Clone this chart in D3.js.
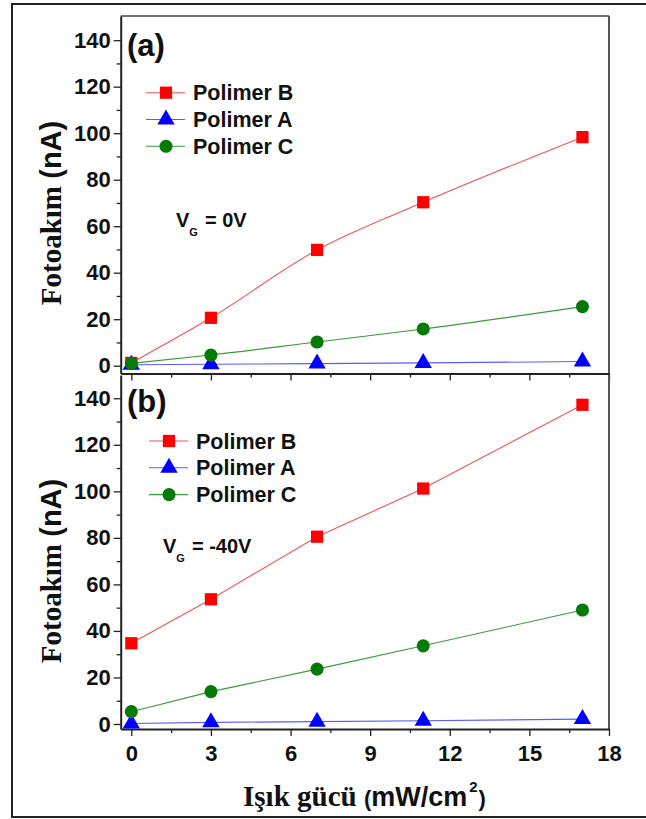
<!DOCTYPE html>
<html lang="tr">
<head>
<meta charset="UTF-8">
<title>Fotoakım - Işık gücü</title>
<script src="https://d3js.org/d3.v7.min.js"></script>
<style>
  body { margin: 0; background: #fff; }
  svg text { font-family: Arial, "Liberation Sans", sans-serif; font-weight: bold; fill: #111; }
  .serif { font-family: "Times New Roman", "Liberation Serif", serif; }
</style>
</head>
<body>
<div id="vis"></div>
<script>
// light power values (mW/cm2)
const lightPower = [0, 3, 7, 11, 17];

// panel (a), VG = 0V
const aPolimerB = [1.2, 20.6, 49.8, 70.3, 98.3];
const aPolimerA = [0.4, 0.6, 0.9, 1.2, 1.8];
const aPolimerC = [1.0, 4.6, 10.2, 15.8, 25.4];

// panel (b), VG = -40V
const bPolimerB = [34.7, 53.6, 80.5, 101.2, 137.2];
const bPolimerA = [0.2, 0.7, 1.0, 1.4, 2.1];
const bPolimerC = [5.3, 13.9, 23.6, 33.6, 49.0];

const seriesNames = ['Polimer B', 'Polimer A', 'Polimer C'];
const yTicks = [0, 20, 40, 60, 80, 100, 120, 140];
const yMinor = [10, 30, 50, 70, 90, 110, 130];
const xTicks = [0, 3, 6, 9, 12, 15, 18];
const xMinor = [1.5, 4.5, 7.5, 10.5, 13.5, 16.5];

const width = 646, height = 819;

const style = {
  'Polimer B': { line: '#ee5555', fill: '#ff0000', symbol: d3.symbolSquare, size: 150 },
  'Polimer A': { line: '#5a5aff', fill: '#0000ff', symbol: d3.symbolTriangle, size: 130 },
  'Polimer C': { line: '#3a9a3a', fill: '#067a06', symbol: d3.symbolCircle, size: 135 }
};

const svg = d3.select('#vis').append('svg')
  .attr('width', width)
  .attr('height', height);

// outer frame
svg.append('rect')
  .attr('x', 12).attr('y', 4)
  .attr('width', 700).attr('height', 813)
  .attr('fill', 'none')
  .attr('stroke', '#222')
  .attr('stroke-width', 2);

const x = d3.scaleLinear().domain([-0.4, 18]).range([120.7, 609]);

function drawPanel(cfg) {
  const y = d3.scaleLinear().domain(cfg.yDomain).range(cfg.yRange);
  const g = svg.append('g');

  // right spine (and top for panel a)
  g.append('line')
    .attr('x1', x.range()[1]).attr('x2', x.range()[1])
    .attr('y1', y.range()[1]).attr('y2', y.range()[0])
    .attr('stroke', '#555').attr('stroke-width', 2);
  if (cfg.top) {
    g.append('line')
      .attr('x1', x.range()[0]).attr('x2', x.range()[1])
      .attr('y1', y.range()[1]).attr('y2', y.range()[1])
      .attr('stroke', '#444').attr('stroke-width', 1.5);
  }

  // y axis
  g.append('g')
    .attr('transform', `translate(${x.range()[0]},0)`)
    .call(d3.axisLeft(y).tickValues(yTicks).tickSize(7).tickPadding(3).tickSizeOuter(0));
  g.append('g')
    .attr('transform', `translate(${x.range()[0]},0)`)
    .call(d3.axisLeft(y).tickValues(yMinor).tickSize(4).tickFormat('').tickSizeOuter(0))
    .select('.domain').remove();

  // x axis
  g.append('g')
    .attr('transform', `translate(0,${y.range()[0]})`)
    .call(d3.axisBottom(x).tickValues(xTicks).tickSize(7).tickPadding(9).tickSizeOuter(0)
      .tickFormat(cfg.xLabels ? d3.format('d') : ''));
  g.append('g')
    .attr('transform', `translate(0,${y.range()[0]})`)
    .call(d3.axisBottom(x).tickValues(xMinor).tickSize(4).tickFormat('').tickSizeOuter(0))
    .select('.domain').remove();

  g.selectAll('.domain').attr('stroke', '#222').attr('stroke-width', 2);
  g.selectAll('.tick line').attr('stroke', '#222').attr('stroke-width', 1.3);
  g.selectAll('.tick text')
    .style('font-family', 'Arial, "Liberation Sans", sans-serif')
    .style('font-weight', 'bold')
    .style('font-size', '22px')
    .attr('fill', '#111');

  // series
  const line = d3.line()
    .x((d, i) => x(lightPower[i]))
    .y(d => y(d))
    .curve(cfg.curve);

  cfg.series.forEach((vals, k) => {
    const s = style[seriesNames[k]];
    g.append('path')
      .datum(vals)
      .attr('d', line)
      .attr('fill', 'none')
      .attr('stroke', s.line)
      .attr('stroke-width', 1.1);
  });
  cfg.series.forEach((vals, k) => {
    const s = style[seriesNames[k]];
    g.selectAll(null)
      .data(vals)
      .enter()
      .append('path')
      .attr('d', d3.symbol().type(s.symbol).size(s.size))
      .attr('transform', (d, i) => `translate(${x(lightPower[i])},${y(d)})`)
      .attr('fill', s.fill);
  });

  // legend
  seriesNames.forEach((name, k) => {
    const s = style[name];
    const ly = cfg.legend.y + k * 26.8;
    g.append('line')
      .attr('x1', cfg.legend.x).attr('x2', cfg.legend.x + 39)
      .attr('y1', ly).attr('y2', ly)
      .attr('stroke', s.line).attr('stroke-width', 1.1);
    g.append('path')
      .attr('d', d3.symbol().type(s.symbol).size(s.size))
      .attr('transform', `translate(${cfg.legend.x + 20},${ly})`)
      .attr('fill', s.fill);
    g.append('text')
      .attr('x', cfg.legend.x + 47)
      .attr('y', ly + 7.5)
      .style('font-size', '21.5px')
      .text(name);
  });

  // panel label
  g.append('text')
    .attr('x', 127).attr('y', cfg.labelY)
    .style('font-size', '31px')
    .text(cfg.label);

  // gate voltage
  const vg = g.append('text')
    .attr('x', cfg.vg.x).attr('y', cfg.vg.y)
    .style('font-size', '20px');
  vg.append('tspan').text('V');
  vg.append('tspan').attr('dy', 9).style('font-size', '11px').text('G');
  vg.append('tspan').attr('dy', -9).attr('dx', 7).text(cfg.vg.text);

  // y title
  const yt = g.append('text')
    .attr('transform', `translate(61,${cfg.titleY}) rotate(-90)`)
    .attr('text-anchor', 'middle')
    .style('font-size', '29px');
  yt.append('tspan').attr('class', 'serif').text('Fotoakım ');
  yt.append('tspan').text('(nA)');
}

drawPanel({
  yDomain: [-3.35, 150.4], yRange: [373.5, 16], top: true, xLabels: false,
  series: [aPolimerB, aPolimerA, aPolimerC], curve: d3.curveMonotoneX,
  legend: { x: 146, y: 92.7 }, label: '(a)', labelY: 56,
  vg: { x: 176, y: 227, text: '= 0V' }, titleY: 213
});

drawPanel({
  yDomain: [-2.15, 150], yRange: [729, 375], top: false, xLabels: true,
  series: [bPolimerB, bPolimerA, bPolimerC], curve: d3.curveLinear,
  legend: { x: 149, y: 441 }, label: '(b)', labelY: 412,
  vg: { x: 163, y: 553, text: '= -40V' }, titleY: 571
});

// x title
const xt = svg.append('text')
  .attr('x', 243).attr('y', 806)
  .style('font-size', '29px');
xt.append('tspan').attr('class', 'serif').text('Işık gücü ');
xt.append('tspan').style('font-size', '22px').text('(');
xt.append('tspan').style('font-size', '27px').text('mW/cm');
xt.append('tspan').attr('dy', -14).attr('dx', 2).style('font-size', '15px').text('2');
xt.append('tspan').attr('dy', 14).attr('dx', 1).style('font-size', '22px').text(')');
</script>
</body>
</html>
